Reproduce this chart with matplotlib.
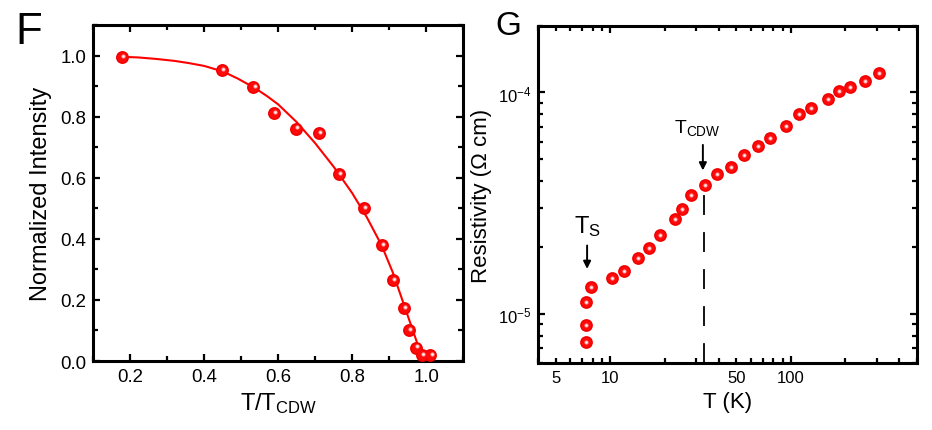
import matplotlib
matplotlib.use("Agg")
import matplotlib.pyplot as plt
from matplotlib.ticker import MultipleLocator, FixedLocator, LogLocator, FuncFormatter, LogFormatterMathtext, NullFormatter
from matplotlib.transforms import offset_copy

plt.rcParams['font.family'] = ['Liberation Sans', 'DejaVu Sans']
plt.rcParams['mathtext.fontset'] = 'custom'
plt.rcParams['mathtext.rm'] = 'Liberation Sans'
plt.rcParams['mathtext.it'] = 'Liberation Sans:italic'
plt.rcParams['mathtext.bf'] = 'Liberation Sans:bold'

# ---- Panel F data ----
f_t = [0.176, 0.447, 0.533, 0.589, 0.648, 0.711, 0.765, 0.832, 0.881, 0.911, 0.940, 0.953, 0.973, 0.990, 1.012]
f_I = [0.995, 0.952, 0.898, 0.813, 0.761, 0.745, 0.613, 0.500, 0.381, 0.266, 0.173, 0.101, 0.044, 0.019, 0.019]
fit_t = [0.175, 0.22, 0.27, 0.32, 0.36, 0.40, 0.45, 0.49, 0.535, 0.57, 0.60, 0.65, 0.70, 0.75,
         0.80, 0.84, 0.88, 0.91, 0.94, 0.96, 0.98, 0.995]
fit_I = [0.996, 0.994, 0.989, 0.9825, 0.975, 0.966, 0.948, 0.925, 0.895, 0.867, 0.840, 0.782, 0.713, 0.636,
         0.550, 0.470, 0.378, 0.290, 0.185, 0.115, 0.045, 0.005]

# ---- Panel G data ----
g_T = [7.36, 7.36, 7.36, 7.87, 10.26, 11.86, 14.25, 16.41, 18.96, 22.77, 24.9, 27.9, 33.4, 38.8,
       46.4, 55.1, 66.1, 76.7, 94.2, 111.7, 129.1, 159.9, 184.0, 213.8, 256.6, 306.9]
g_rho = [7.51e-6, 8.95e-6, 1.14e-5, 1.32e-5, 1.45e-5, 1.57e-5, 1.80e-5, 1.99e-5, 2.28e-5, 2.68e-5,
         2.97e-5, 3.44e-5, 3.82e-5, 4.27e-5, 4.62e-5, 5.23e-5, 5.73e-5, 6.21e-5, 7.08e-5, 7.97e-5,
         8.55e-5, 9.36e-5, 1.01e-4, 1.06e-4, 1.13e-4, 1.22e-4]
T_cdw = 33.1
T_s = 7.45

fig = plt.figure(figsize=(9.32, 4.31), dpi=100)


def balls(ax, x, y, ms, dx, dy):
    ax.plot(x, y, 'o', ls='none', ms=ms, mfc='#f20000', mec='none', zorder=3, clip_on=False)
    ax.plot(x, y, 'o', ls='none', ms=ms * 0.75, mfc='#ff0a0a', mec='none', zorder=4, clip_on=False)
    tr = offset_copy(ax.transData, fig=fig, x=dx, y=dy, units='points')
    ax.plot(x, y, 'o', ls='none', ms=ms * 0.32, mfc='#ffa8a8', mec='none', transform=tr, zorder=5, clip_on=False)
    ax.plot(x, y, 'o', ls='none', ms=ms * 0.15, mfc='white', mec='none', transform=tr, zorder=6, clip_on=False)


def style(ax, fs):
    for s in ax.spines.values():
        s.set_linewidth(2.2)
    ax.tick_params(which='both', direction='in', top=True, right=True, width=1.6, labelsize=fs, pad=5)
    ax.tick_params(which='major', length=5)
    ax.tick_params(which='minor', length=3.5)


# ---------- Panel F ----------
axF = fig.add_axes([0.1003, 0.160, 0.3965, 0.7796])
axF.plot(fit_t, fit_I, color='#ff0000', lw=1.5, zorder=2)
balls(axF, f_t, f_I, 9.3, 0.8, 0.8)
axF.set_xlim(0.1, 1.1)
axF.set_ylim(0.0, 1.1)
axF.xaxis.set_major_locator(FixedLocator([0.2, 0.4, 0.6, 0.8, 1.0]))
axF.xaxis.set_minor_locator(MultipleLocator(0.1))
axF.yaxis.set_major_locator(FixedLocator([0.0, 0.2, 0.4, 0.6, 0.8, 1.0]))
axF.yaxis.set_minor_locator(MultipleLocator(0.1))
axF.xaxis.set_major_formatter(FuncFormatter(lambda v, p: f"{v:.1f}"))
axF.yaxis.set_major_formatter(FuncFormatter(lambda v, p: f"{v:.1f}"))
style(axF, 13.4)
axF.set_xlabel(r'T/T$_{\rm CDW}$', fontsize=17, labelpad=4)
axF.set_ylabel('Normalized Intensity', fontsize=17, labelpad=6)
fig.text(15 / 932, 1 - 11.7 / 431, 'F', fontsize=31.5, ha='left', va='top')

# ---------- Panel G ----------
axG = fig.add_axes([0.5776, 0.1547, 0.4063, 0.7833])
axG.set_xscale('log')
axG.set_yscale('log')
axG.set_xlim(4, 500)
axG.set_ylim(6e-6, 2e-4)
axG.vlines(T_cdw, 6e-6, 3.8e-5, colors='black', lw=1.3, linestyles=(0, (11, 9.5)), zorder=1)
balls(axG, g_T, g_rho, 9.2, 0, 0)
axG.xaxis.set_major_locator(FixedLocator([10, 100]))
axG.xaxis.set_minor_locator(LogLocator(base=10, subs=range(2, 10)))
axG.xaxis.set_major_formatter(FuncFormatter(lambda v, p: f"{v:g}"))
axG.xaxis.set_minor_formatter(FuncFormatter(lambda v, p: f"{v:g}" if round(v) in (5, 50) else ""))
axG.yaxis.set_major_locator(LogLocator(base=10))
axG.yaxis.set_minor_locator(LogLocator(base=10, subs=range(2, 10)))
axG.yaxis.set_major_formatter(LogFormatterMathtext())
axG.yaxis.set_minor_formatter(NullFormatter())
style(axG, 12)
axG.tick_params(axis='x', which='minor', labelsize=12, pad=5)
axG.set_xlabel('T (K)', fontsize=16, labelpad=4)
axG.set_ylabel('Resistivity (\u03a9 cm)', fontsize=16, labelpad=4)

axG.annotate('', xy=(T_cdw * 0.985, 4.45e-5), xytext=(T_cdw * 0.985, 5.8e-5),
             arrowprops=dict(arrowstyle='-|>', color='black', lw=1.4, mutation_scale=11, shrinkA=0, shrinkB=0))
axG.text(30.3, 6.27e-5, r'T$_{\rm CDW}$', fontsize=14, ha='center', va='bottom')
axG.annotate('', xy=(T_s, 1.6e-5), xytext=(T_s, 2.04e-5),
             arrowprops=dict(arrowstyle='-|>', color='black', lw=1.4, mutation_scale=11, shrinkA=0, shrinkB=0))
axG.text(7.52, 2.2e-5, r'T$_{\rm S}$', fontsize=17, ha='center', va='bottom')
fig.text(495 / 932, 1 - 11 / 431, 'G', fontsize=24, ha='left', va='top')

fig.savefig('out.png', dpi=100)
